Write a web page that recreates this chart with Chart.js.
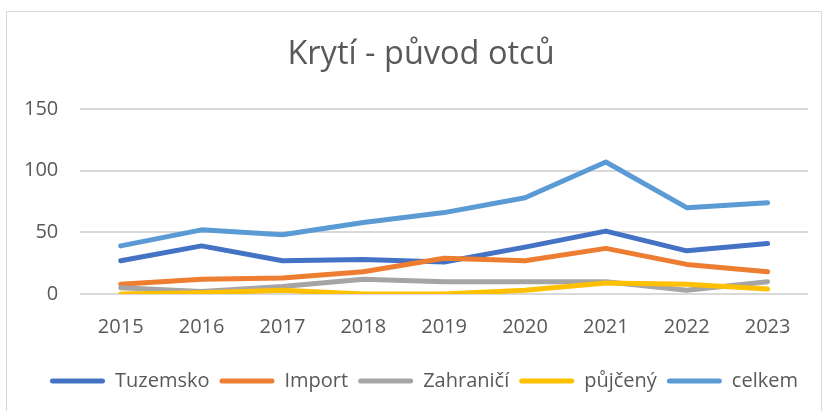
<!DOCTYPE html>
<html>
<head>
<meta charset="utf-8">
<script src="https://cdn.jsdelivr.net/npm/chart.js@4"></script>
<style>
  html, body { margin: 0; padding: 0; background: #fff; }
  #frame { position: absolute; left: 6px; top: 11px; width: 816px; height: 410px; border: 1px solid #d9d9d9; box-sizing: border-box; }
  #wrap { position: absolute; left: 0; top: 0; width: 828px; height: 411px; }
</style>
</head>
<body>
<div id="frame"></div>
<div id="wrap"><canvas id="chart"></canvas></div>
<script>
// data
const years = ["2015", "2016", "2017", "2018", "2019", "2020", "2021", "2022", "2023"];
const tuzemsko = [27, 39, 27, 28, 26, 38, 51, 35, 41];
const importy = [8, 12, 13, 18, 29, 27, 37, 24, 18];
const zahranici = [5, 2, 6, 12, 10, 10, 10, 3, 10];
const pujceny = [0, 1, 3, 0, 0, 3, 9, 8, 4];
const celkem = [39, 52, 48, 58, 66, 78, 107, 70, 74];

const font = "'Open Sans', 'DejaVu Sans', sans-serif";
const grey = "#595959";

function series(label, data, color, i) {
    return {
        label: label,
        data: data,
        borderColor: color,
        backgroundColor: color,
        borderWidth: 5,
        borderCapStyle: "round",
        borderJoinStyle: "round",
        pointRadius: 0,
        tension: 0,
        fill: false,
        order: 10 - i   // later series on top, like Excel
    };
}

// title and legend are centred a bit right of the plot in the original
const nudge = {
    id: "nudge",
    afterLayout(chart) {
        chart.titleBlock.left += 16;
        chart.titleBlock.right += 16;
        chart.legend.left += 19;
        chart.legend.right += 19;
    }
};

const ctx = document.getElementById("chart").getContext("2d");
new Chart(ctx, {
    type: "line",
    data: {
        labels: years,
        datasets: [
            series("Tuzemsko", tuzemsko, "#4472C4", 0),
            series("Import", importy, "#ED7D31", 1),
            series("Zahraničí", zahranici, "#A5A5A5", 2),
            series("půjčený", pujceny, "#FFC000", 3),
            series("celkem", celkem, "#5B9BD5", 4)
        ]
    },
    plugins: [nudge],
    options: {
        responsive: true,
        maintainAspectRatio: false,
        animation: false,
        layout: { padding: { left: 2, right: 20, top: 0, bottom: 10 } },
        plugins: {
            title: {
                display: true,
                text: "Krytí - původ otců",
                color: grey,
                font: { family: font, size: 32.5, weight: "normal" },
                padding: { top: 35, bottom: 35 }
            },
            legend: {
                position: "bottom",
                labels: {
                    color: grey,
                    font: { family: font, size: 20 },
                    boxWidth: 55,
                    boxHeight: 5,
                    padding: 10,
                    useBorderRadius: true,
                    borderRadius: 2.5,
                    sort: (a, b) => a.datasetIndex - b.datasetIndex,
                    generateLabels: chart =>
                        Chart.defaults.plugins.legend.labels.generateLabels(chart)
                            .map(l => Object.assign(l, { lineWidth: 0 }))
                }
            },
            tooltip: { enabled: false }
        },
        scales: {
            x: {
                offset: true,
                grid: { display: false },
                border: { display: false },
                ticks: { color: grey, font: { family: font, size: 20 }, padding: 13 },
                afterFit: s => { s.height += 9; }
            },
            y: {
                min: 0,
                max: 150,
                ticks: { stepSize: 50, color: grey, font: { family: font, size: 20 }, padding: 22 },
                grid: { color: "#d9d9d9", lineWidth: 2, drawTicks: false },
                border: { display: false }
            }
        }
    }
});
</script>
</body>
</html>
